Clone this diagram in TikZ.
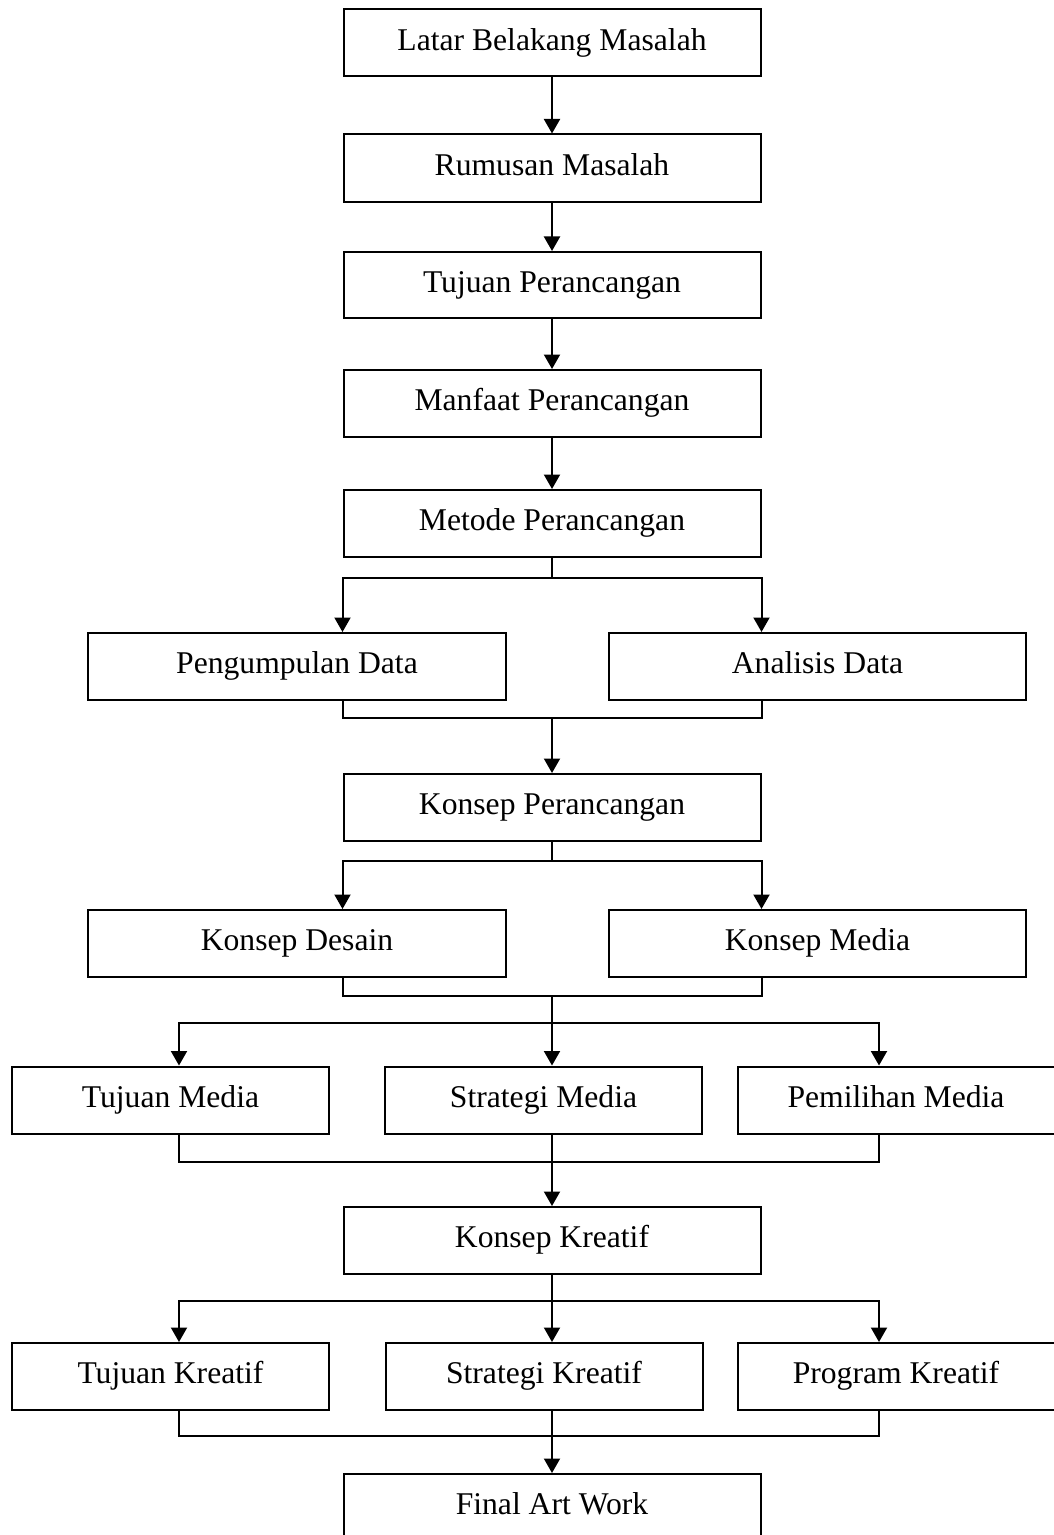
\documentclass[tikz,border=0pt]{standalone}
\usepackage{fontspec}
\setmainfont{Liberation Serif}
\usetikzlibrary{arrows.meta}

\begin{document}
\begin{tikzpicture}[x=0.2mm, y=-0.2mm, line width=0.4mm,
        box/.style={rectangle, draw, minimum width=83.4mm, minimum height=13.4mm, inner sep=0pt, text height=13pt, text depth=4.5pt, font=\fontsize{18}{22}\selectfont},
        sbox/.style={box, minimum width=63.4mm},
        >={Triangle[width=3.2mm, length=2.9mm]}]
        \useasboundingbox (0,0) rectangle (1053,1535);
        \coordinate (L) at (179,0);
        \coordinate (R) at (879,0);
        \node[box] (latar) at (552,43) {Latar Belakang Masalah};
        \node[box] (rumusan) at (552,168) {Rumusan Masalah};
        \node[box, minimum height=13.2mm] (tujuan) at (552,285) {Tujuan Perancangan};
        \node[box] (manfaat) at (552,403.5) {Manfaat Perancangan};
        \node[box] (metode) at (552,523.5) {Metode Perancangan};
        \node[box] (pdata) at (297,666.5) {Pengumpulan Data};
        \node[box] (adata) at (817.5,666.5) {Analisis Data};
        \node[box] (kper) at (552,807.5) {Konsep Perancangan};
        \node[box] (kdesain) at (297,943.5) {Konsep Desain};
        \node[box] (kmedia) at (817.5,943.5) {Konsep Media};
        \node[sbox] (tmedia) at (170.5,1100) {Tujuan Media};
        \node[sbox] (smedia) at (543.5,1100) {Strategi Media};
        \node[sbox] (pmedia) at (896,1100) {Pemilihan Media};
        \node[box] (kkreatif) at (552,1240.5) {Konsep Kreatif};
        \node[sbox] (tkreatif) at (170.5,1376.5) {Tujuan Kreatif};
        \node[sbox] (skreatif) at (544,1376.5) {Strategi Kreatif};
        \node[sbox] (pkreatif) at (896,1376.5) {Program Kreatif};
        \node[box] (final) at (552,1507.5) {Final Art Work};

        \draw[->] (latar) -- (rumusan);
        \draw[->] (rumusan) -- (tujuan);
        \draw[->] (tujuan) -- (manfaat);
        \draw[->] (manfaat) -- (metode);
        \draw[->] (metode.south) -- ++(0,20) -| (pdata.north -| metode.west);
        \draw[->] (metode.south) -- ++(0,20) -| (adata.north -| metode.east);
        \draw (pdata.south -| metode.west) -- ++(0,17) -| (adata.south -| metode.east);
        \draw[->] (pdata.south -| kper) ++(0,17) -- (kper);
        \draw[->] (kper.south) -- ++(0,19) -| (kdesain.north -| kper.west);
        \draw[->] (kper.south) -- ++(0,19) -| (kmedia.north -| kper.east);
        \draw (kdesain.south -| kper.west) -- ++(0,18) -| (kmedia.south -| kper.east);
        \draw[->] (kdesain.south -| kper) ++(0,18) -- (smedia.north -| kper);
        \draw[->] (kdesain.south -| kper) ++(0,45) -| (tmedia.north -| L);
        \draw[->] (kdesain.south -| kper) ++(0,45) -| (pmedia.north -| R);
        \draw (tmedia.south -| L) -- ++(0,27) -| (pmedia.south -| R);
        \draw[->] (smedia.south -| kkreatif) -- (kkreatif);
        \draw[->] (kkreatif.south) -- (skreatif.north -| kkreatif);
        \draw[->] (kkreatif.south) -- ++(0,26) -| (tkreatif.north -| L);
        \draw[->] (kkreatif.south) -- ++(0,26) -| (pkreatif.north -| R);
        \draw (tkreatif.south -| L) -- ++(0,25) -| (pkreatif.south -| R);
        \draw[->] (skreatif.south -| final) -- (final);
    \end{tikzpicture}
\end{document}
